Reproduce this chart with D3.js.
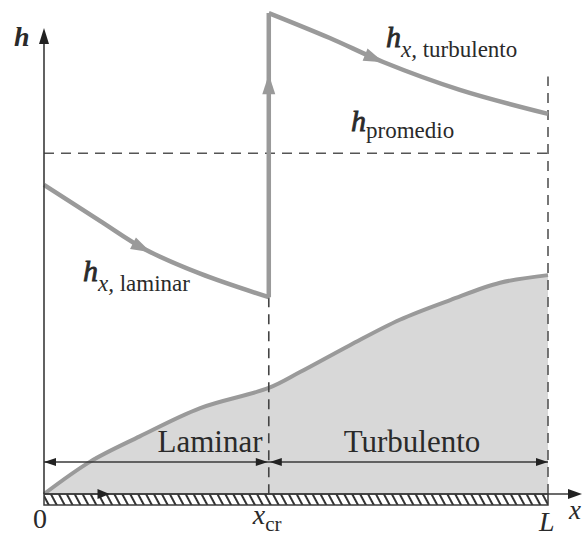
<!DOCTYPE html>
<html><head><meta charset="utf-8">
<script src="https://cdn.jsdelivr.net/npm/d3@7"></script>
<style>
body{margin:0;background:#fff;}
svg{display:block;}
text{font-family:"Liberation Serif","Times New Roman",serif;fill:#2a2a2a;}
</style></head>
<body>
<svg id="chart" width="582" height="538"></svg>
<script>
// ---- data ----
const L = 1.0;
const xcr = 0.446;
const lamX = [0, 0.111, 0.2, 0.31, 0.446];
const lamH = [64.4, 56.9, 51.0, 45.9, 41.0];
const turbX = [0.446, 0.567, 0.673, 0.825, 1.0];
const turbH = [100.2, 95, 90, 84.2, 79.2];
const hAvg = 71;
const deltaX = [0, 0.091, 0.19, 0.31, 0.446, 0.508, 0.607, 0.706, 0.806, 0.905, 1.0];
const deltaH = [0, 6.7, 12.0, 17.9, 22.1, 25.4, 31, 36.3, 40.4, 44, 45.6];
const tickX = [0, xcr, L];
const regionNames = ["Laminar", "Turbulento"];

const svg = d3.select("#chart");
const x = d3.scaleLinear().domain([0, L]).range([44, 548]);
const y = d3.scaleLinear().domain([0, 100]).range([494, 14]);
const gray = "#9a9a9a", dark = "#3a3a3a";

const defs = svg.append("defs");
const pat = defs.append("pattern").attr("id","hatch").attr("patternUnits","userSpaceOnUse")
  .attr("width",7).attr("height",20).attr("patternTransform","rotate(-28)");
pat.append("rect").attr("width",7).attr("height",20).attr("fill","#fff");
pat.append("line").attr("x1",2).attr("y1",0).attr("x2",2).attr("y2",20).attr("stroke","#333").attr("stroke-width",2);

const zip = (xs, hs) => xs.map((v,i)=>[v, hs[i]]);
const curve = d3.curveCatmullRom.alpha(0.5);
const smooth = d3.line().x(d=>x(d[0])).y(d=>y(d[1])).curve(curve);

// boundary layer fill
const delta = zip(deltaX, deltaH);
svg.append("path")
  .attr("d", d3.area().x(d=>x(d[0])).y0(y(0)).y1(d=>y(d[1])).curve(curve)(delta))
  .attr("fill", "#d8d8d8");
svg.append("path").attr("d", smooth(delta)).attr("fill","none").attr("stroke",gray).attr("stroke-width",4);

// dashed lines
const dash = "10,7";
svg.append("line").attr("x1",x(0)).attr("x2",x(L)).attr("y1",y(hAvg)).attr("y2",y(hAvg))
  .attr("stroke","#555").attr("stroke-width",1.6).attr("stroke-dasharray",dash);
svg.append("line").attr("x1",x(xcr)).attr("x2",x(xcr)).attr("y1",y(lamH[lamH.length-1])).attr("y2",y(0))
  .attr("stroke","#444").attr("stroke-width",1.6).attr("stroke-dasharray",dash);
svg.append("line").attr("x1",x(L)).attr("x2",x(L)).attr("y1",y(0)).attr("y2",y(87))
  .attr("stroke","#555").attr("stroke-width",1.6).attr("stroke-dasharray",dash);

// h curves
const lamPath = svg.append("path").attr("d", smooth(zip(lamX, lamH))).attr("fill","none")
  .attr("stroke",gray).attr("stroke-width",4.5);
const vertPath = svg.append("path")
  .attr("d", d3.line().x(d=>x(d[0])).y(d=>y(d[1]))([[xcr, lamH[lamH.length-1]],[xcr, turbH[0]]]))
  .attr("fill","none").attr("stroke",gray).attr("stroke-width",4.5);
const turbPath = svg.append("path").attr("d", smooth(zip(turbX, turbH))).attr("fill","none")
  .attr("stroke",gray).attr("stroke-width",4.5);

function arrowOn(pathSel, frac, len, wid, color) {
  const p = pathSel.node(), T = p.getTotalLength();
  const a = p.getPointAtLength(T*frac), b = p.getPointAtLength(T*frac - 2);
  const ang = Math.atan2(a.y-b.y, a.x-b.x)*180/Math.PI;
  svg.append("path").attr("d", `M0,0 L${-len},${-wid/2} L${-len},${wid/2} Z`)
    .attr("fill", color).attr("transform", `translate(${a.x},${a.y}) rotate(${ang})`);
}
arrowOn(lamPath, 0.5, 20, 13, gray);
arrowOn(turbPath, 0.42, 20, 13, gray);
arrowOn(vertPath, 0.785, 20, 13, gray);

// plate
svg.append("rect").attr("x",x(0)).attr("y",y(0)).attr("width",x(L)-x(0)).attr("height",11)
  .attr("fill","url(#hatch)").attr("stroke",dark).attr("stroke-width",1.5);

// axes
function tri(px,py,ang,len,wid,color){
  svg.append("path").attr("d",`M0,0 L${-len},${-wid/2} L${-len},${wid/2} Z`).attr("fill",color)
    .attr("transform",`translate(${px},${py}) rotate(${ang})`);
}
svg.append("line").attr("x1",x(0)).attr("x2",x(0)).attr("y1",y(0)).attr("y2",34).attr("stroke",dark).attr("stroke-width",1.6);
tri(x(0), 28, -90, 16, 10, "#222");
svg.append("line").attr("x1",x(0)).attr("x2",576).attr("y1",y(0)).attr("y2",y(0)).attr("stroke",dark).attr("stroke-width",1.6);
tri(582, y(0), 0, 14, 10, "#222");
tri(x(0.13), y(0), 0, 12, 10, "#222");

// dimension arrows
const dimY = 462;
svg.append("line").attr("x1",x(0)).attr("x2",x(L)).attr("y1",dimY).attr("y2",dimY).attr("stroke",dark).attr("stroke-width",1.3);
tri(x(0), dimY, 180, 12, 8, "#222");
tri(x(xcr)-1, dimY, 0, 12, 8, "#222");
tri(x(xcr)+1, dimY, 180, 12, 8, "#222");
tri(x(L), dimY, 0, 12, 8, "#222");

// region labels
svg.selectAll("text.region").data(regionNames).join("text").attr("class","region")
  .attr("x",(d,i)=> i===0 ? 210 : 412)
  .attr("y",452).attr("text-anchor","middle").attr("font-size",31).text(d=>d);

// tick labels
svg.append("text").attr("x",x(0)-4).attr("y",528).attr("text-anchor","middle").attr("font-size",28).text("0");
const xcrT = svg.append("text").attr("x",x(xcr)-16).attr("y",524).attr("font-size",28);
xcrT.append("tspan").attr("font-style","italic").text("x");
xcrT.append("tspan").attr("dy",7).attr("font-size",21).text("cr");
svg.append("text").attr("x",x(L)-9).attr("y",531).attr("font-size",28).attr("font-style","italic").text("L");
svg.append("text").attr("x",569).attr("y",519).attr("font-size",27).attr("font-style","italic").text("x");
svg.append("text").attr("x",14).attr("y",46).attr("font-size",28).attr("font-style","italic").attr("font-weight","bold").text("h");

// curve labels
function hLabel(px, py, sub1, sub2) {
  const t = svg.append("text").attr("x",px).attr("y",py).attr("font-size",30);
  t.append("tspan").attr("font-style","italic").attr("stroke","#2a2a2a").attr("stroke-width",0.8).text("h");
  if (sub1) t.append("tspan").attr("dy",10).attr("font-size",23).attr("font-style","italic").text(sub1);
  t.append("tspan").attr("dy", sub1 ? 0 : 7).attr("font-size",23).text(sub2);
}
hLabel(386, 47, "x,", " turbulento");
hLabel(351, 131, null, "promedio");
hLabel(83, 281, "x,", " laminar");
</script>
</body></html>
